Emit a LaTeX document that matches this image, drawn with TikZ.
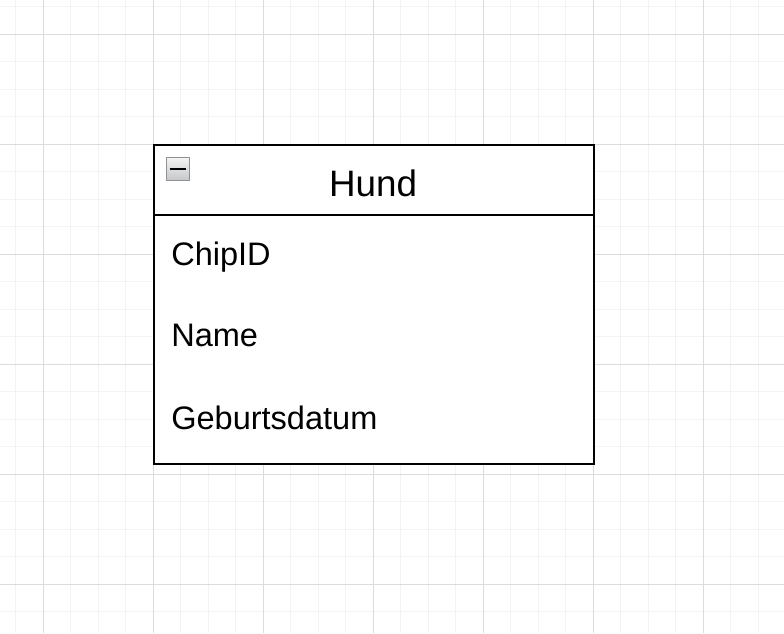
\documentclass[tikz,border=0pt]{standalone}
\usepackage{fontspec}
\setmainfont{Liberation Sans}
\usepackage{tikz}
\usetikzlibrary{positioning,calc}
\definecolor{gdmajor}{HTML}{DCDCDC}
\definecolor{gdminor}{HTML}{F3F3F3}
\definecolor{iconedge}{HTML}{8E9296}
\definecolor{icontop}{HTML}{F4F4F4}
\definecolor{iconbot}{HTML}{C4C6C8}

\begin{document}
\begin{tikzpicture}[
  x=0.75pt, y=-0.75pt,
  minorline/.style={draw=gdminor, line width=0.75pt},
  majorline/.style={draw=gdmajor, line width=0.75pt},
  entity/.style={draw=black, fill=white, line width=1.6pt, minimum width=330pt,
                 minimum height=239.25pt, inner sep=0pt, anchor=north west},
  title/.style={font=\fontsize{27.6}{30}\selectfont, anchor=base, inner sep=0pt},
  attr/.style={font=\fontsize{24.4}{28}\selectfont, anchor=base west, inner sep=0pt},
  toggle/.style={draw=iconedge, line width=1.2pt, top color=icontop,
                 bottom color=iconbot, minimum size=17pt, inner sep=0pt},
]
  \useasboundingbox (0,0) rectangle (784,633);
  \fill[white] (0,0) rectangle (784,633);

  % ---- background grid ------------------------------------------------------
  \foreach \gx in {15.5,43,...,784} \draw[minorline] (\gx,0) -- (\gx,633);
  \foreach \gy in {6.5,34,...,633} \draw[minorline] (0,\gy) -- (784,\gy);
  \foreach \gx in {43,153,...,784} \draw[majorline] (\gx,0) -- (\gx,633);
  \foreach \gy in {34,144,...,633} \draw[majorline] (0,\gy) -- (784,\gy);

  % ---- the entity -----------------------------------------------------------
  \node[entity] (hund) at (153,144) {};
  \coordinate (sepl) at (153,215);
  \coordinate (sepr) at (593,215);
  \draw[line width=1.6pt] (sepl) -- (sepr);

  \node[toggle] (fold) at (178,169) {};
  \draw[line width=2.2pt] ([xshift=3pt]fold.west) -- ([xshift=-3pt]fold.east);

  \node[title] (name) at (373,196) {Hund};

  \node[attr] (a1) at (171,265) {ChipID};
  \node[attr] (a2) at (171,346) {Name};
  \node[attr] (a3) at (171,429) {Geburtsdatum};
\end{tikzpicture}
\end{document}
